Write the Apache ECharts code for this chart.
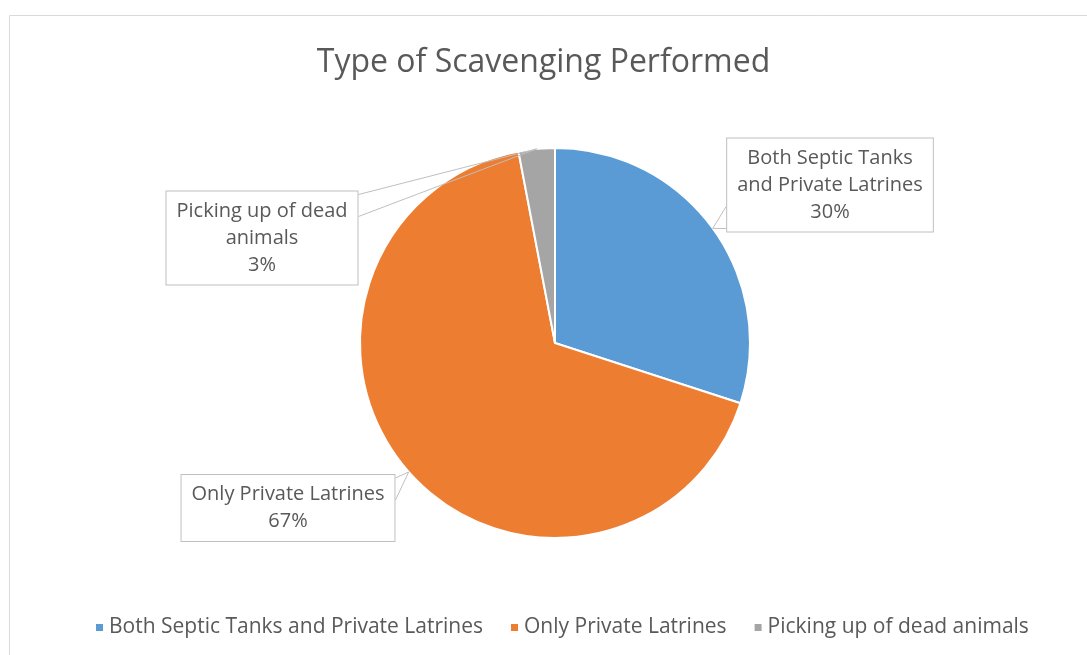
<!DOCTYPE html>
<html>
<head>
<meta charset="utf-8">
<script src="https://cdn.jsdelivr.net/npm/echarts@6/dist/echarts.min.js"></script>
<style>
  html, body { margin: 0; padding: 0; background: #fff; }
  #chart { width: 1087px; height: 655px; }
</style>
</head>
<body>
<div id="chart"></div>
<script>
// Share of respondents by type of scavenging work
const categories = ['Both Septic Tanks and Private Latrines', 'Only Private Latrines', 'Picking up of dead animals'];
const shares = [30, 67, 3];
const calloutText = ['Both Septic Tanks\nand Private Latrines', 'Only Private Latrines', 'Picking up of dead\nanimals'];
const colors = ['#5B9BD5', '#ED7D31', '#A5A5A5'];

// Callout box centres (px)
const calloutPos = [[830, 185], [288, 508], [262, 238]];

const FONT = '"Open Sans", "Noto Sans", sans-serif';
const PIE_CENTER = [555, 343];
const PIE_RADIUS = 195;
const chart = echarts.init(document.getElementById('chart'), null, { renderer: 'canvas' });

// Point on the rim of a slice, at its middle angle, from the pie's own layout
function sliceAnchor(seriesIdx, idx) {
  const lay = chart.getModel().getSeriesByIndex(seriesIdx).getData().getItemLayout(idx);
  const mid = (lay.startAngle + lay.endAngle) / 2;
  return [lay.cx + lay.r * Math.cos(mid), lay.cy + lay.r * Math.sin(mid)];
}

// Wedge-shaped callout pointer: two lines from the box edge to the slice anchor
function calloutPointer(anchor, cx, cy, w, h) {
  const x0 = cx - w / 2, x1 = cx + w / 2, y0 = cy - h / 2, y1 = cy + h / 2;
  const half = 11;
  const clamp = (v, a, b) => Math.max(a, Math.min(b, v));
  const dxOut = anchor[0] < x0 ? x0 - anchor[0] : (anchor[0] > x1 ? anchor[0] - x1 : 0);
  const dyOut = anchor[1] < y0 ? y0 - anchor[1] : (anchor[1] > y1 ? anchor[1] - y1 : 0);
  if (dxOut >= dyOut) {
    const ex = anchor[0] < x0 ? x0 : x1;
    const my = clamp(anchor[1], y0 + half + 4, y1 - half - 4);
    return [[ex, my - half], anchor, [ex, my + half]];
  }
  const ey = anchor[1] < y0 ? y0 : y1;
  const mx = clamp(anchor[0], x0 + half + 4, x1 - half - 4);
  return [[mx - half, ey], anchor, [mx + half, ey]];
}

const pieData = categories.map((name, i) => ({ name, value: shares[i] }));

chart.setOption({
  animation: false,
  color: colors,
  title: {
    text: 'Type of Scavenging Performed',
    left: 'center',
    top: 42,
    textStyle: { fontFamily: FONT, fontSize: 32, fontWeight: 'normal', color: '#595959' }
  },
  legend: {
    bottom: 12,
    left: 89,
    icon: 'rect',
    itemWidth: 9,
    itemHeight: 9,
    itemGap: 26,
    textStyle: { fontFamily: FONT, fontSize: 21, color: '#595959' },
    data: categories
  },
  graphic: [{
    type: 'polyline',
    shape: { points: [[9.5, 700], [9.5, 15.5], [1100, 15.5]] },
    style: { stroke: '#d9d9d9', lineWidth: 1, fill: null },
    silent: true
  }],
  series: [
    // The slices
    {
      type: 'pie',
      z: 2,
      center: PIE_CENTER,
      radius: PIE_RADIUS,
      startAngle: 90,
      clockwise: true,
      itemStyle: { borderColor: '#fff', borderWidth: 2 },
      label: { show: false },
      labelLine: { show: false },
      data: pieData
    },
    // Callouts, drawn on a transparent copy so their pointers sit above every slice
    {
      type: 'pie',
      z: 3,
      silent: true,
      legendHoverLink: false,
      center: PIE_CENTER,
      radius: PIE_RADIUS,
      startAngle: 90,
      clockwise: true,
      itemStyle: { color: 'rgba(0,0,0,0)', borderWidth: 0 },
      label: {
        show: true,
        formatter: p => calloutText[p.dataIndex] + '\n' + Math.round(p.percent) + '%',
        fontFamily: FONT,
        fontSize: 20,
        lineHeight: 27,
        color: '#595959',
        align: 'center',
        backgroundColor: '#fff',
        borderColor: '#bfbfbf',
        borderWidth: 1,
        padding: [6, 10]
      },
      labelLine: {
        show: true,
        length: 10,
        length2: 10,
        minTurnAngle: 0,
        maxSurfaceAngle: 180,
        lineStyle: { color: '#bfbfbf', width: 1 }
      },
      labelLayout: p => {
        const [cx, cy] = calloutPos[p.dataIndex];
        return {
          x: cx, y: cy, align: 'center', verticalAlign: 'middle',
          labelLinePoints: calloutPointer(sliceAnchor(p.seriesIndex, p.dataIndex), cx, cy, p.labelRect.width, p.labelRect.height)
        };
      },
      data: pieData
    }
  ]
});
</script>
</body>
</html>
